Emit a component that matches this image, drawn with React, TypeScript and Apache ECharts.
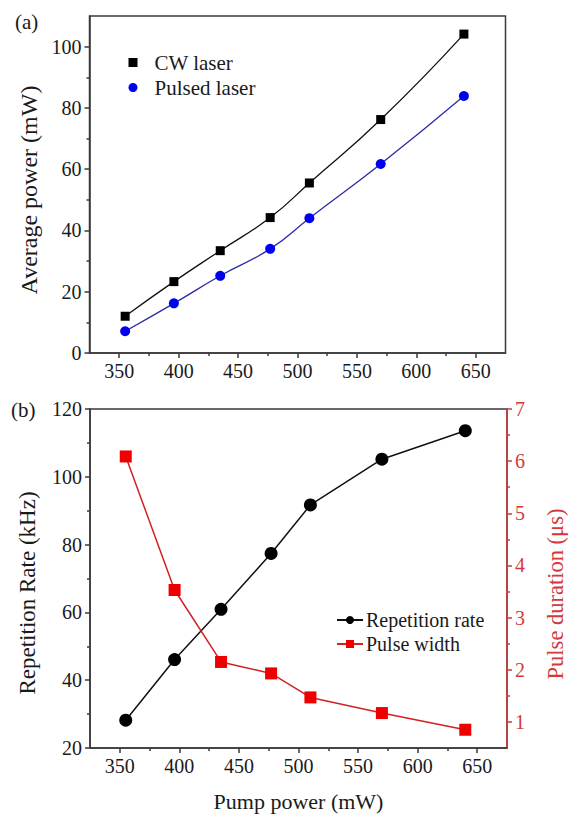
import React, { useEffect, useRef } from "react";
import * as echarts from "echarts";

// ---- data ----
const pumpPower = [355, 396, 435, 477, 510, 570, 640];
const cwPower = [12.0, 23.3, 33.4, 44.2, 55.5, 76.2, 104.1];
const pulsedPower = [7.1, 16.2, 25.2, 34.0, 44.0, 61.7, 83.9];
const repRate = [28.2, 46.1, 60.9, 77.4, 91.7, 105.2, 113.6];
const pulseWidth = [6.09, 3.53, 2.15, 1.93, 1.47, 1.17, 0.85];

const xTicks = [350, 400, 450, 500, 550, 600, 650];
const xMinorTicks = [375, 425, 475, 525, 575, 625];
const yPowerTicks = [0, 20, 40, 60, 80, 100];
const yPowerMinor = [10, 30, 50, 70, 90];
const yRateTicks = [20, 40, 60, 80, 100, 120];
const yRateMinor = [30, 50, 70, 90, 110];
const yPulseTicks = [1, 2, 3, 4, 5, 6, 7];
const yPulseMinor = [1.5, 2.5, 3.5, 4.5, 5.5, 6.5];

const FONT = "Liberation Serif, Times New Roman, serif";
const TXT = "#1a1a1a";
const AXIS = "#3a3a3a";
const RED_AXIS = "#d23a3a";

const pairs = (ys: number[]) => pumpPower.map((x, i) => [x, ys[i]]);

export default function App() {
  const ref = useRef<HTMLDivElement>(null);
  useEffect(() => {
    document.body.style.margin = "0";
    const chart = echarts.init(ref.current!, null, { renderer: "svg" });

    const mainX = (grid: number, name?: string) => ({
      type: "value",
      gridIndex: grid,
      min: 325,
      max: 675,
      position: "bottom",
      name: name,
      nameLocation: "middle",
      nameGap: 42,
      nameTextStyle: { fontFamily: FONT, fontSize: 22, color: TXT },
      axisLine: { show: true, onZero: false, lineStyle: { color: AXIS, width: 1.5 } },
      axisTick: { show: true, inside: false, length: 5, customValues: xTicks, lineStyle: { color: AXIS, width: 1.5 } },
      axisLabel: { customValues: xTicks, margin: 8, fontFamily: FONT, fontSize: 20, color: TXT },
      splitLine: { show: false },
    });
    const minorX = (grid: number) => ({
      type: "value",
      gridIndex: grid,
      min: 325,
      max: 675,
      position: "bottom",
      axisLine: { show: false, onZero: false },
      axisTick: { show: true, inside: false, length: 3, customValues: xMinorTicks, lineStyle: { color: AXIS, width: 1.5 } },
      axisLabel: { show: false },
      splitLine: { show: false },
    });
    const mainY = (grid: number, min: number, max: number, ticks: number[], pos: string, color: string, lineColor: string) => ({
      type: "value",
      gridIndex: grid,
      min,
      max,
      position: pos,
      axisLine: { show: true, onZero: false, lineStyle: { color: lineColor, width: 1.5 } },
      axisTick: { show: true, inside: false, length: 5, customValues: ticks, lineStyle: { color: lineColor, width: 1.5 } },
      axisLabel: { customValues: ticks, margin: 8, fontFamily: FONT, fontSize: 20, color },
      splitLine: { show: false },
    });
    const minorY = (grid: number, min: number, max: number, ticks: number[], pos: string, lineColor: string) => ({
      type: "value",
      gridIndex: grid,
      min,
      max,
      position: pos,
      axisLine: { show: false, onZero: false },
      axisTick: { show: true, inside: false, length: 3, customValues: ticks, lineStyle: { color: lineColor, width: 1.5 } },
      axisLabel: { show: false },
      splitLine: { show: false },
    });
    const vName = (text: string, x: number, y: number, size: number, color: string) => ({
      type: "text",
      x,
      y,
      rotation: Math.PI / 2,
      style: { text, fontFamily: FONT, fontSize: size, fill: color, align: "center", verticalAlign: "middle" },
    });

    chart.setOption({
      animation: false,
      backgroundColor: "#ffffff",
      textStyle: { fontFamily: FONT },
      grid: [
        { left: 89.5, top: 16, width: 416, height: 337, show: true, borderColor: AXIS, borderWidth: 1.5, backgroundColor: "transparent" },
        { left: 90, top: 409, width: 417, height: 339, show: true, borderColor: AXIS, borderWidth: 1.5, backgroundColor: "transparent" },
      ],
      xAxis: [mainX(0), minorX(0), mainX(1, "Pump power (mW)"), minorX(1)],
      yAxis: [
        mainY(0, 0, 110, yPowerTicks, "left", TXT, AXIS),
        minorY(0, 0, 110, yPowerMinor, "left", AXIS),
        mainY(1, 20, 120, yRateTicks, "left", TXT, AXIS),
        minorY(1, 20, 120, yRateMinor, "left", AXIS),
        mainY(1, 0.5, 7, yPulseTicks, "right", RED_AXIS, RED_AXIS),
        minorY(1, 0.5, 7, yPulseMinor, "right", RED_AXIS),
      ],
      legend: [
        {
          left: 128.5,
          top: 52,
          padding: 0,
          orient: "vertical",
          itemWidth: 9,
          itemHeight: 9,
          itemGap: 4,
          textStyle: { fontFamily: FONT, fontSize: 21, color: TXT, padding: [0, 0, 0, 12] },
          data: [
            { name: "CW laser", icon: "rect" },
            { name: "Pulsed laser", icon: "circle" },
          ],
        },
        {
          left: 336,
          top: 610,
          padding: 0,
          orient: "vertical",
          itemWidth: 26,
          itemHeight: 10,
          itemGap: 4,
          textStyle: { fontFamily: FONT, fontSize: 20, color: TXT, padding: [0, 0, 0, -2] },
          data: ["Repetition rate", "Pulse width"],
        },
      ],
      graphic: [
        { type: "text", left: 15, top: 11, style: { text: "(a)", fontFamily: FONT, fontSize: 21, fill: TXT } },
        { type: "text", left: 11, top: 399, style: { text: "(b)", fontFamily: FONT, fontSize: 21, fill: TXT } },
        vName("Average power (mW)", 28.5, 190, 24, TXT),
        vName("Repetition Rate (kHz)", 27, 593, 23, TXT),
        vName("Pulse duration (μs)", 555, 594, 22.5, RED_AXIS),
      ],
      series: [
        {
          name: "CW laser",
          type: "line",
          xAxisIndex: 0,
          yAxisIndex: 0,
          data: pairs(cwPower),
          smooth: 0.5,
          symbol: "rect",
          symbolSize: 9,
          itemStyle: { color: "#000000" },
          lineStyle: { color: "#111111", width: 1.3 },
        },
        {
          name: "Pulsed laser",
          type: "line",
          xAxisIndex: 0,
          yAxisIndex: 0,
          data: pairs(pulsedPower),
          smooth: 0.5,
          symbol: "circle",
          symbolSize: 10,
          itemStyle: { color: "#0000f0" },
          lineStyle: { color: "#2a2aa8", width: 1.3 },
        },
        {
          name: "Repetition rate",
          type: "line",
          xAxisIndex: 2,
          yAxisIndex: 2,
          data: pairs(repRate),
          symbol: "circle",
          symbolSize: 13,
          itemStyle: { color: "#000000" },
          lineStyle: { color: "#111111", width: 1.5 },
        },
        {
          name: "Pulse width",
          type: "line",
          xAxisIndex: 2,
          yAxisIndex: 4,
          data: pairs(pulseWidth),
          symbol: "rect",
          symbolSize: 12,
          itemStyle: { color: "#ee0000" },
          lineStyle: { color: "#d42020", width: 1.5 },
        },
      ],
    });
    return () => chart.dispose();
  }, []);
  return <div ref={ref} style={{ width: 572, height: 814 }} />;
}
